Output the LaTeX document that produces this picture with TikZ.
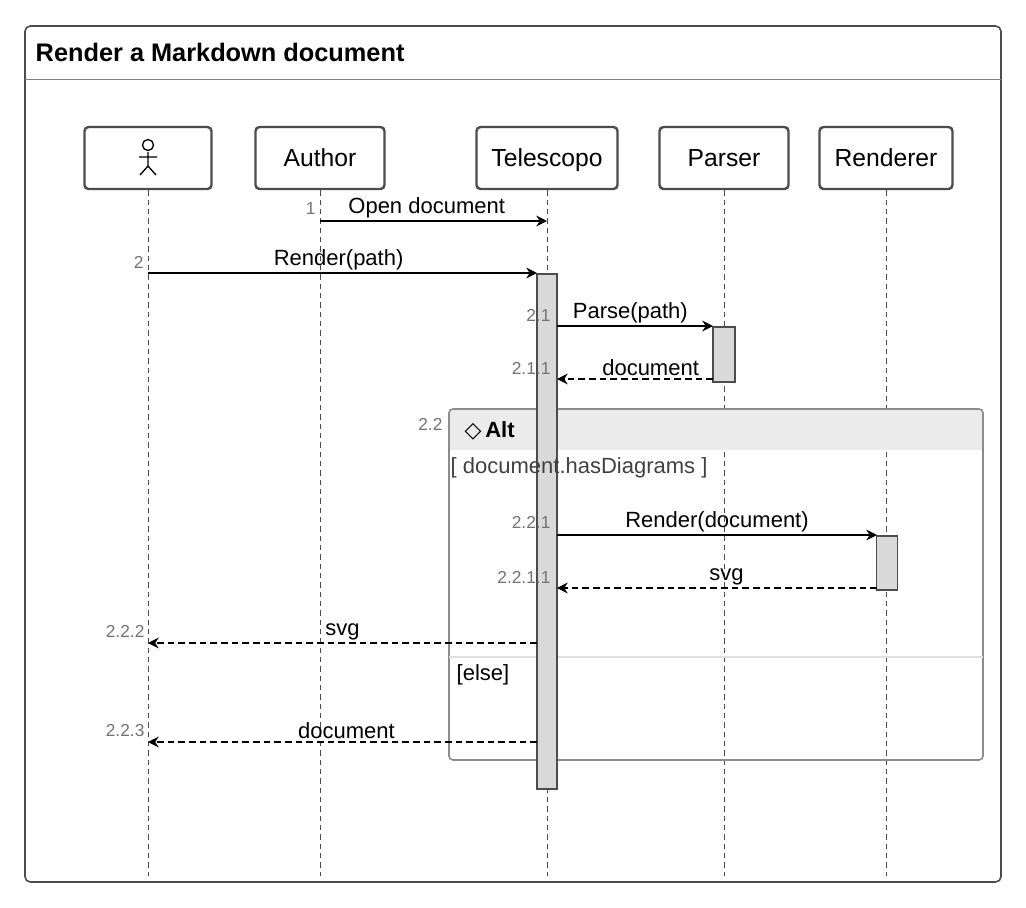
\documentclass[tikz,border=0pt]{standalone}
\usepackage{fontspec}
\setmainfont{Liberation Sans}
\newfontfamily\symf{DejaVu Sans}
\usetikzlibrary{arrows.meta}
\begin{document}
\begin{tikzpicture}[x=0.75pt,y=-0.75pt,
  part/.style={draw=black!70,line width=1.8pt,rounded corners=3pt,minimum width=128pt*0.75,minimum height=62*0.75pt,text height=14.5pt,text depth=2.5pt,font=\fontsize{18.5}{20}\selectfont},
  life/.style={black!70,dash pattern=on 4pt off 3pt,line width=0.7pt},
  act/.style={draw=black!70,fill=black!15,line width=1.4pt},
  msg/.style={line width=2pt,-{Stealth[length=8pt,width=8pt]}},
  ret/.style={msg,dash pattern=on 5pt off 3pt},
  lbl/.style={font=\fontsize{16.5}{18}\selectfont,above,inner sep=1.5pt},
  num/.style={font=\fontsize{13}{15}\selectfont,text=black!55,anchor=east,inner sep=1pt}]
\useasboundingbox (0,0) rectangle (1026,908);
\draw[black!70,line width=1.2pt,rounded corners=4pt] (25,26) rectangle (1001,882);
\draw[black!50,line width=0.6pt] (25,79) -- (1001,79);
\node[anchor=west,font=\bfseries\fontsize{19}{22}\selectfont] (title) at (31,52) {Render a Markdown document};
% participants
\node[part,minimum width=127*0.75pt] (p0) at (148,158) {};
\node[part,minimum width=129*0.75pt] (p1) at (320,158) {Author};
\node[part,minimum width=141*0.75pt] (p2) at (547,158) {Telescopo};
\node[part,minimum width=129*0.75pt] (p3) at (724,158) {Parser};
\node[part,minimum width=133*0.75pt] (p4) at (886,158) {Renderer};
% actor icon
\draw[line width=1pt] (148,145) circle (5.5*0.75pt);
\draw[line width=1pt] (148,152) -- (148,166) (139,157) -- (157,157) (140,175) -- (148,166) -- (156,175);
% lifelines
\foreach \n/\x in {0/148,1/320,2/547,3/724,4/886}{
  \coordinate (e\n) at (\x,876);
  \draw[life] (p\n.south) -- (e\n);}
% alt frame
\fill[black!8] (449,409) rectangle (983,450);
\draw[black!45,line width=1.2pt,rounded corners=3pt] (449,409) rectangle (983,760);
\draw[black!12,line width=1pt] (449,657) -- (983,657);
% activations
\node[act,minimum width=20*0.75pt,minimum height=515*0.75pt,inner sep=0,anchor=north] (a2) at (547,273) {};
\node[act,minimum width=22*0.75pt,minimum height=55*0.75pt,inner sep=0,anchor=north] (a3) at (724,326) {};
\node[act,minimum width=21*0.75pt,minimum height=54*0.75pt,inner sep=0,anchor=north] (a4) at (887,535) {};
\node[anchor=west,font=\fontsize{16.5}{18}\selectfont] (alt) at (460,431) {{\symf\char"25C7}\,\textbf{Alt}};
\node[num] (n22) at (444,424) {2.2};
\node[anchor=west,font=\fontsize{16.5}{18}\selectfont,text=black!75] (guard) at (446,468) {[ document.hasDiagrams ]};
\node[anchor=west,font=\fontsize{16.5}{18}\selectfont] (else) at (452,675) {[else]};
% messages
\coordinate (m1s) at (320,221); \coordinate (m1e) at (547,221);
\draw[msg] (m1s) -- node[lbl,pos=0.47]{Open document} (m1e);
\node[num] at (317,209) {1};
\coordinate (m2s) at (148,273); \coordinate (m2e) at (537,273);
\draw[msg] (m2s) -- node[lbl,pos=0.49]{Render(path)} (m2e);
\node[num] at (145,262) {2};
\coordinate (m3s) at (557,326); \coordinate (m3e) at (713,326);
\draw[msg] (m3s) -- node[lbl,pos=0.47]{Parse(path)} (m3e);
\node[num] at (552,315) {2.1};
\coordinate (m4s) at (713,379); \coordinate (m4e) at (557,379);
\draw[ret] (m4s) -- node[lbl,pos=0.4]{document} (m4e);
\node[num] at (552,368) {2.1.1};
\coordinate (m5s) at (557,535); \coordinate (m5e) at (877,535);
\draw[msg] (m5s) -- node[lbl]{Render(document)} (m5e);
\node[num] at (552,522) {2.2.1};
\coordinate (m6s) at (877,588); \coordinate (m6e) at (557,588);
\draw[ret] (m6s) -- node[lbl,pos=0.47]{svg} (m6e);
\node[num] at (552,577) {2.2.1.1};
\coordinate (m7s) at (537,643); \coordinate (m7e) at (148,643);
\draw[ret] (m7s) -- node[lbl,pos=0.5]{svg} (m7e);
\node[num] at (146,631) {2.2.2};
\coordinate (m8s) at (537,742); \coordinate (m8e) at (148,742);
\draw[ret] (m8s) -- node[lbl,pos=0.49]{document} (m8e);
\node[num] at (146,731) {2.2.3};
\end{tikzpicture}
\end{document}
